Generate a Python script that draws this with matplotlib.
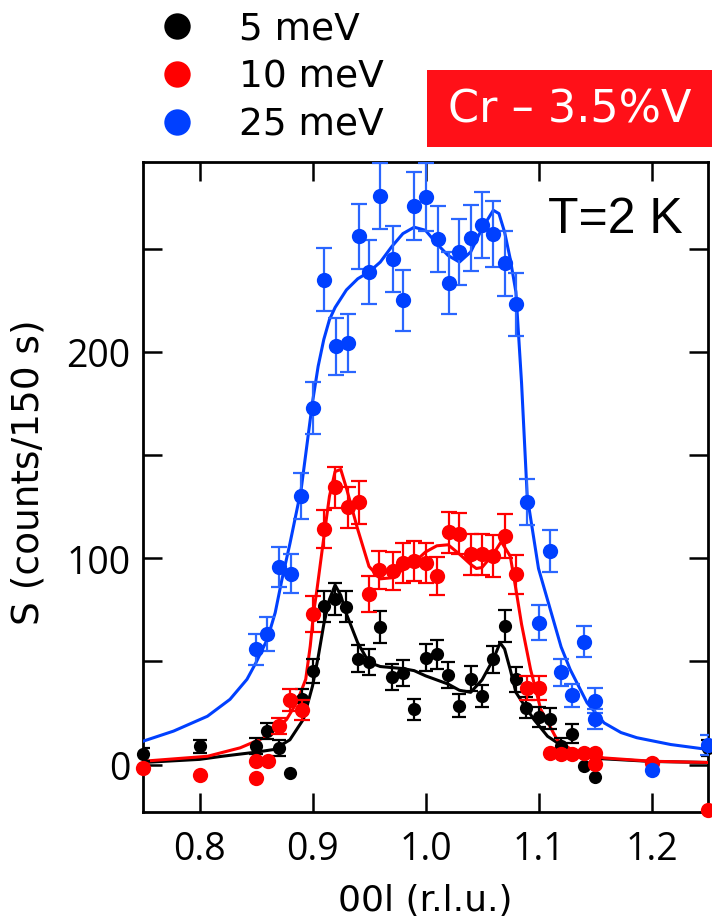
# ================================
# IMPORT LIBRARIES
# ================================
import matplotlib
matplotlib.use("Agg")
import matplotlib.pyplot as plt
from matplotlib import font_manager
from matplotlib.lines import Line2D
from matplotlib.patches import Rectangle

# ================================
# DATA
# ================================
series_labels = ["5 meV", "10 meV", "25 meV"]

# 5 meV (black)
x_5 = [0.750, 0.800, 0.850, 0.860, 0.870, 0.880, 0.891, 0.900, 0.910, 0.920, 0.930,
       0.940, 0.950, 0.960, 0.970, 0.980, 0.990, 1.000, 1.010, 1.020, 1.030, 1.040,
       1.050, 1.060, 1.070, 1.080, 1.089, 1.100, 1.110, 1.120, 1.130, 1.140, 1.150, 1.250]
y_5 = [4.9, 8.9, 8.9, 16.2, 8.1, -4.0, 31.6, 45.3, 76.8, 80.1, 76.5,
       51.3, 49.7, 66.7, 42.6, 44.5, 26.7, 51.8, 53.4, 43.2, 28.6, 41.6,
       33.2, 51.0, 67.1, 41.3, 27.5, 23.1, 22.2, 8.9, 15.0, -0.5, -6.1, 8.0]
e_5 = [3.0, 3.2, 4.0, 4.0, 4.0, 0, 5.0, 6.0, 7.5, 7.7, 7.5,
       6.5, 6.5, 7.7, 6.3, 6.3, 5.3, 6.5, 7.0, 6.3, 5.5, 6.0,
       5.5, 6.5, 7.7, 6.0, 5.0, 5.0, 5.0, 4.0, 4.5, 0, 0, 4.0]

# 10 meV (red)
x_10 = [0.750, 0.800, 0.850, 0.850, 0.861, 0.870, 0.880, 0.891, 0.900, 0.910, 0.920,
        0.931, 0.941, 0.950, 0.959, 0.971, 0.980, 0.990, 1.000, 1.010, 1.021, 1.030,
        1.040, 1.050, 1.060, 1.070, 1.080, 1.090, 1.100, 1.110, 1.120, 1.130, 1.140,
        1.150, 1.150, 1.200, 1.250]
y_10 = [-1.6, -5.3, 1.9, -6.5, 1.6, 18.6, 31.2, 26.4, 72.8, 114.0, 134.3,
        124.6, 127.0, 82.7, 94.3, 93.8, 97.9, 98.7, 97.9, 91.4, 112.5, 111.9,
        101.9, 101.9, 101.0, 110.8, 92.2, 37.2, 37.2, 5.8, 4.9, 4.9, 5.8,
        5.8, 0.5, 0.8, -22.0]
e_10 = [0, 0, 0, 0, 0, 4.0, 5.3, 5.0, 8.7, 9.3, 10.0,
        10.0, 10.5, 8.7, 9.3, 9.3, 9.7, 9.7, 9.7, 9.3, 10.0, 10.0,
        10.0, 10.0, 10.0, 10.5, 9.5, 5.8, 5.8, 0, 0, 0, 0,
        0, 0, 0, 0]

# 25 meV (blue)
x_25 = [0.850, 0.860, 0.870, 0.881, 0.890, 0.900, 0.910, 0.921, 0.931, 0.941, 0.950,
        0.960, 0.971, 0.980, 0.990, 1.000, 1.011, 1.021, 1.030, 1.040, 1.050, 1.060,
        1.070, 1.080, 1.090, 1.100, 1.110, 1.120, 1.130, 1.140, 1.150, 1.150, 1.200, 1.250]
y_25 = [55.8, 63.4, 95.5, 92.5, 130.2, 172.8, 235.0, 202.6, 204.4, 256.0, 238.7,
        275.4, 245.0, 224.9, 270.7, 275.0, 254.5, 233.5, 248.4, 255.2, 261.3, 257.3,
        243.0, 223.0, 127.3, 68.8, 103.5, 44.8, 33.6, 59.6, 31.0, 22.1, -2.7, 9.4]
e_25 = [7.7, 8.3, 9.7, 9.3, 11.0, 12.8, 15.3, 14.0, 14.0, 15.7, 15.4,
        16.0, 15.8, 14.9, 16.4, 16.5, 16.0, 15.0, 15.8, 16.0, 16.0, 16.0,
        15.8, 15.1, 11.0, 8.3, 10.0, 6.5, 5.5, 7.7, 6.0, 4.7, 0, 5.0]

# fit curves
fit_x_5 = [0.75, 0.80, 0.82, 0.85, 0.866, 0.88, 0.892, 0.90, 0.905, 0.91, 0.915, 0.92,
           0.925, 0.93, 0.94, 0.95, 0.96, 0.97, 0.98, 0.99, 1.00, 1.01, 1.02, 1.03,
           1.04, 1.05, 1.06, 1.066, 1.07, 1.075, 1.08, 1.084, 1.096, 1.108, 1.119,
           1.13, 1.15, 1.20, 1.25]
fit_y_5 = [1.0, 2.5, 4.0, 6.0, 7.3, 12.0, 22.0, 38.0, 52.0, 68.0, 80.0, 87.0,
           82.0, 73.0, 59.0, 49.5, 47.5, 47.0, 46.5, 45.5, 43.0, 41.0, 39.0, 36.0,
           35.0, 41.0, 51.0, 59.0, 56.0, 46.0, 35.0, 31.6, 21.8, 13.7, 9.7,
           6.0, 3.0, 1.5, 1.0]

fit_x_10 = [0.75, 0.807, 0.836, 0.86, 0.877, 0.886, 0.894, 0.898, 0.901, 0.904, 0.91,
            0.915, 0.92, 0.925, 0.93, 0.94, 0.95, 0.96, 0.97, 0.98, 0.99, 1.00, 1.01,
            1.02, 1.03, 1.04, 1.045, 1.05, 1.06, 1.067, 1.075, 1.08, 1.085, 1.093,
            1.102, 1.1165, 1.131, 1.158, 1.20, 1.25]
fit_y_10 = [1.6, 4.0, 8.1, 13.7, 21.8, 30.0, 41.3, 57.4, 73.6, 85.0, 110.0,
            130.0, 142.0, 143.0, 134.0, 114.0, 96.0, 90.0, 90.5, 94.5, 98.0, 103.0, 106.0,
            106.5, 102.0, 97.0, 95.0, 95.5, 102.0, 108.0, 101.0, 85.0, 68.0, 46.0,
            26.7, 12.0, 6.5, 3.2, 1.6, 1.0]

fit_x_25 = [0.75, 0.777, 0.807, 0.827, 0.842, 0.85, 0.86, 0.867, 0.873, 0.88, 0.89,
            0.90, 0.905, 0.91, 0.915, 0.92, 0.93, 0.94, 0.95, 0.96, 0.97, 0.98, 0.99,
            1.00, 1.01, 1.02, 1.03, 1.04, 1.05, 1.06, 1.065, 1.07, 1.075, 1.08, 1.085,
            1.09, 1.10, 1.11, 1.12, 1.128, 1.143, 1.158, 1.173, 1.187, 1.217, 1.25]
fit_y_25 = [11.3, 16.2, 23.4, 31.6, 41.3, 49.4, 60.7, 73.6, 89.8, 107.0, 133.5,
            175.6, 193.0, 206.0, 215.6, 221.5, 230.0, 235.4, 238.7, 243.5, 250.9, 257.3, 260.4,
            258.9, 252.4, 246.7, 243.5, 248.4, 259.7, 268.6, 267.0, 258.0, 245.0, 229.0, 185.0,
            130.0, 95.0, 76.0, 57.0, 46.1, 29.9, 20.2, 15.5, 13.0, 9.7, 7.3]

x_ticks = [0.8, 0.9, 1.0, 1.1, 1.2]
y_ticks = [0, 50, 100, 150, 200, 250]
y_tick_labels = ["0", "", "100", "", "200", ""]


# ================================
# HELPERS
# ================================
def pick_font(candidates):
    names = {f.name for f in font_manager.fontManager.ttflist}
    for name in candidates:
        if name in names:
            return name
    return "DejaVu Sans"


def draw_series(ax, x, y, err, color, bar_color, ms, cap, z):
    # error bars only where an error was visible
    xe = [a for a, e in zip(x, err) if e > 0]
    ye = [b for b, e in zip(y, err) if e > 0]
    ee = [e for e in err if e > 0]
    ax.errorbar(xe, ye, yerr=ee, fmt="none", ecolor=bar_color, elinewidth=1.6,
                capsize=cap, capthick=1.6, zorder=z)
    ax.plot(x, y, "o", color=color, markersize=ms, markeredgewidth=0,
            clip_on=False, zorder=z + 0.5)


# ================================
# MAIN PROGRAM
# ================================
def main():
    plt.rcParams["font.family"] = "DejaVu Sans"
    narrow = pick_font(["Liberation Sans Narrow", "Liberation Sans"])
    tick_font = pick_font(["Open Sans", "Noto Sans"])

    black = "#000000"
    red = "#ff0000"
    blue = "#0040ff"
    blue_bar = "#2a66ff"

    fig = plt.figure(figsize=(7.12, 9.2), dpi=100)
    ax = fig.add_axes([143 / 712, 1 - 813 / 920, 565 / 712, 650 / 920])

    # fits
    ax.plot(fit_x_5, fit_y_5, color=black, lw=2.2, zorder=3)
    ax.plot(fit_x_10, fit_y_10, color=red, lw=2.2, zorder=4)
    ax.plot(fit_x_25, fit_y_25, color=blue, lw=2.2, zorder=5)

    # data
    draw_series(ax, x_5, y_5, e_5, black, black, 9.5, 5, 6)
    draw_series(ax, x_10, y_10, e_10, red, red, 11, 6, 7)
    draw_series(ax, x_25, y_25, e_25, blue, blue_bar, 11, 6, 8)

    # axes
    ax.set_xlim(0.75, 1.25)
    ax.set_ylim(-23, 292)
    ax.set_xticks(x_ticks)
    ax.set_xticklabels([f"{v:.1f}" for v in x_ticks])
    ax.set_yticks(y_ticks)
    ax.set_yticklabels(y_tick_labels)
    ax.tick_params(direction="in", length=14, width=1.8, labelsize=27,
                   top=True, right=True)
    ax.tick_params(axis="x", pad=13)
    ax.tick_params(axis="y", pad=9)
    for lab in ax.get_xticklabels() + ax.get_yticklabels():
        lab.set_family(tick_font)
    for sp in ax.spines.values():
        sp.set_linewidth(2.0)

    ax.set_xlabel("00l (r.l.u.)", fontsize=26, labelpad=11)
    ax.set_ylabel("S (counts/150 s)", fontsize=27)
    ax.yaxis.set_label_coords(-0.170, 0.525)

    ax.text(0.955, 0.912, "T=2 K", transform=ax.transAxes, ha="right", va="center",
            fontsize=36, family=narrow)

    # legend above the axes
    handles = [Line2D([], [], ls="none", marker="o", markersize=19, color=c,
                      markeredgewidth=0) for c in (black, red, blue)]
    fig.legend(handles, series_labels, loc="upper left",
               bbox_to_anchor=(158 / 712, 1 - 12 / 920), frameon=False,
               fontsize=27, handlelength=1.0, handletextpad=1.15,
               labelspacing=0.32, borderpad=0, borderaxespad=0)

    # red label box
    fig.patches.append(Rectangle((427 / 712, 1 - 148 / 920), 285 / 712, 77 / 920,
                                 transform=fig.transFigure, facecolor="#ff1018",
                                 edgecolor="none", zorder=1))
    fig.text(570 / 712, 1 - 110 / 920, "Cr \u2013 3.5%V", color="white",
             fontsize=32, ha="center", va="center", zorder=2)

    fig.savefig("out.png", dpi=100)


# ================================
# RUN PROGRAM
# ================================
if __name__ == "__main__":
    main()
